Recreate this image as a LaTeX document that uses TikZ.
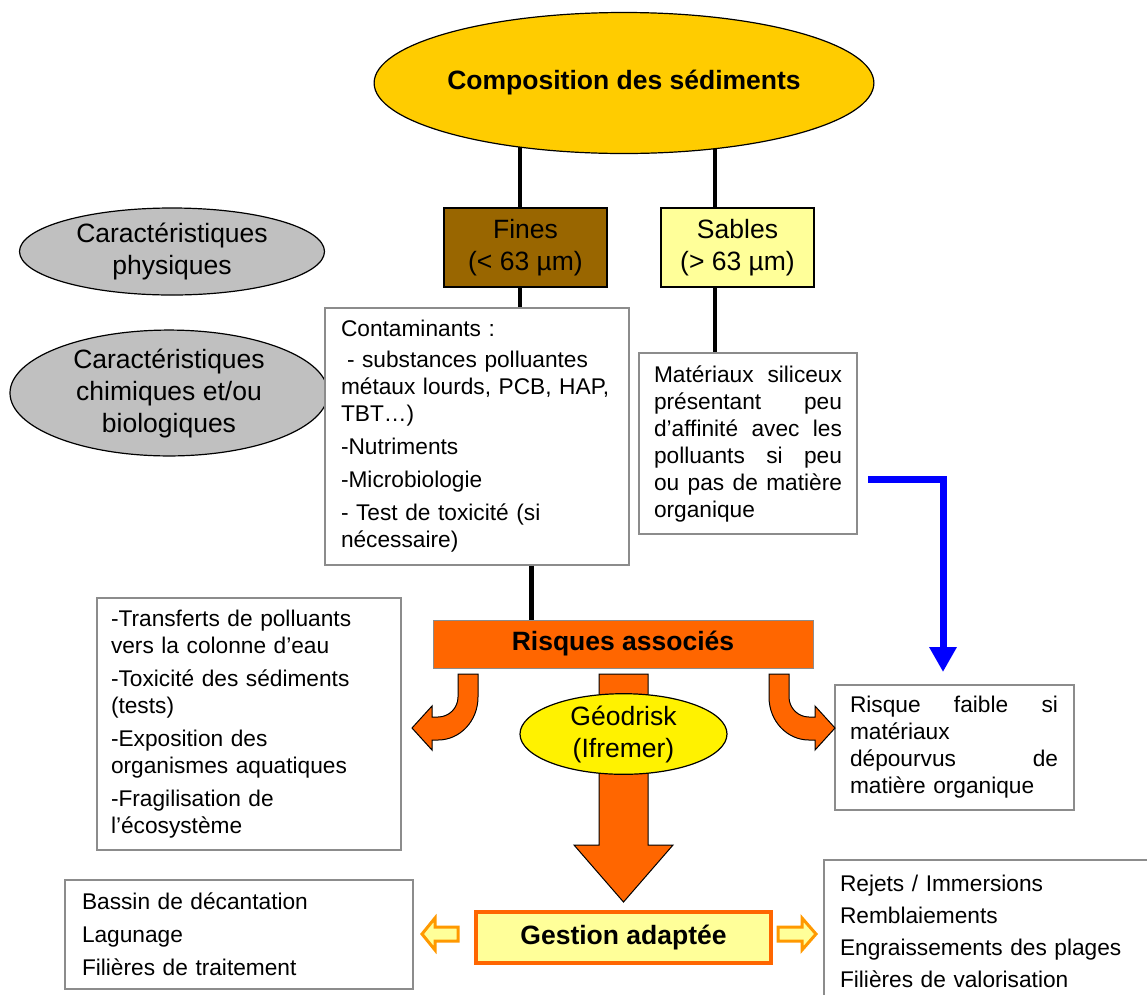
\documentclass[tikz,border=0pt]{standalone}
\usepackage{fontspec}
\setmainfont{Liberation Sans}
\usepackage{tikz}
\usetikzlibrary{positioning}
\usetikzlibrary{shapes.geometric}
\usetikzlibrary{arrows.meta}
\usetikzlibrary{backgrounds}
\definecolor{or}{HTML}{FFCC00}
\definecolor{brun}{HTML}{996600}
\definecolor{paille}{HTML}{FFFF99}
\definecolor{grisclair}{HTML}{C0C0C0}
\definecolor{orangevif}{HTML}{FF6600}
\definecolor{orangeclair}{HTML}{FF9900}
\definecolor{bleu}{HTML}{0000FF}
\definecolor{cadre}{HTML}{8C8C8C}
\newcommand{\justline}[2]{\makebox[#1][s]{\spaceskip=0pt\relax\xspaceskip=0pt\relax #2}}
\tikzset{
    grand/.style={font=\fontsize{26.5}{32}\selectfont},
    grandgras/.style={font=\fontsize{26.5}{32}\selectfont\bfseries},
    texte/.style={font=\fontsize{22.7}{27}\selectfont},
    bulle/.style={ellipse, draw=black, line width=1.2pt, inner sep=0pt, align=center},
    classe/.style={draw=black, line width=1.5pt, inner sep=0pt, align=center, grand},
    boite/.style={draw=cadre, line width=2pt, fill=white, inner sep=0pt, align=left, texte},
    lien/.style={line width=4.7pt},
    fleche/.style={draw=black, line width=1pt, fill=orangevif},
    creuse/.style={draw=orangeclair, line width=3pt, fill=paille}
}

\begin{document}
\begin{tikzpicture}[x=1pt, y=-1pt]
    \useasboundingbox (0,0) rectangle (1147,994);
    \node[bulle, fill=or, minimum width=392pt, minimum height=141pt, grandgras] (compo) at (624,83) {Composition des sédiments};
    \node[classe, fill=brun, minimum width=163pt, minimum height=79pt] (fines) at (525.5,247.5) {Fines\\(< 63 µm)};
    \node[classe, fill=paille, minimum width=153pt, minimum height=79pt] (sables) at (737.5,247.5) {Sables\\(> 63 µm)};
    \node[bulle, fill=grisclair, minimum width=305pt, minimum height=87pt, grand] (physique) at (172,251.5) {Caractéristiques\\physiques};
    \node[bulle, fill=grisclair, minimum width=318pt, minimum height=110pt, grand] (chimique) at (169,393) {Caractéristiques\\chimiques et/ou\\biologiques};
    \node[boite, minimum width=304pt, minimum height=257pt, text width=272pt] (contam) at (477,436) {Contaminants :\\[4pt]
        \hspace*{6pt}- substances polluantes\\
        métaux lourds, PCB, HAP,\\
        TBT…)\\[6pt]
        -Nutriments\\[6pt]
        -Microbiologie\\[6pt]
        - Test de toxicité (si\\
        nécessaire)};
    \node[boite, minimum width=218pt, minimum height=181pt, text width=188pt] (silice) at (748,443.5) {\justline{188pt}{Matériaux siliceux}\\
        \justline{188pt}{présentant peu}\\
        \justline{188pt}{d’affinité avec les}\\
        \justline{188pt}{polluants si peu}\\
        \justline{188pt}{ou pas de matière}\\
        organique};
    \node[draw=cadre, line width=1pt, fill=orangevif, minimum width=380pt, minimum height=48pt, grandgras] (risques) at (623,644) {Risques associés};
    \node[boite, minimum width=304pt, minimum height=252pt, text width=276pt] (transferts) at (249,724) {-Transferts de polluants\\
        vers la colonne d’eau\\[6pt]
        -Toxicité des sédiments\\
        (tests)\\[6pt]
        -Exposition des\\
        organismes aquatiques\\[6pt]
        -Fragilisation de\\
        l’écosystème};
    \node[boite, minimum width=239pt, minimum height=125pt, text width=208pt] (faible) at (954,747.5) {\justline{208pt}{Risque faible si}\\
        matériaux\\
        \justline{208pt}{dépourvus de}\\
        matière organique};
    \node[draw=orangevif, line width=4pt, fill=paille, minimum width=295pt, minimum height=51pt, grandgras] (gestion) at (623.5,937.5) {Gestion adaptée};
    \node[boite, minimum width=348pt, minimum height=109pt, text width=314pt] (bassin) at (239,934.5) {Bassin de décantation\\[6pt]
        Lagunage\\[6pt]
        Filières de traitement};
    \node[boite, anchor=north west, minimum width=360pt, minimum height=142pt, text width=328pt] (rejets) at (823,859) {Rejets / Immersions\\[5pt]
        Remblaiements\\[5pt]
        Engraissements des plages\\[5pt]
        Filières de valorisation};

    \begin{scope}[on background layer]
        \fill[white] (0,0) rectangle (1147,994);
        \draw[lien] ([xshift=-5.5pt]fines.north) -- ([xshift=-5.5pt]fines.north |- compo.center);
        \draw[lien] ([xshift=-22.5pt]sables.north) -- ([xshift=-22.5pt]sables.north |- compo.center);
    \end{scope}
    \draw[lien] ([xshift=-5.5pt]fines.south) -- ([xshift=-5.5pt]fines.south |- contam.north);
    \draw[lien] ([xshift=-22.5pt]sables.south) -- ([xshift=-22.5pt]sables.south |- silice.north);
    \draw[lien] ([xshift=54.5pt]contam.south) -- ([xshift=54.5pt]contam.south |- risques.north);
    \draw[line width=7pt, bleu, -{Triangle[width=26pt,length=25pt]}] ([xshift=10pt,yshift=-35.5pt]silice.east) -| ([xshift=-11pt,yshift=12pt]faible.north);

    \draw[fleche] (458,674) -- (478,674) -- (478,697) .. controls (478,721) and (460,740) .. (438,740) -- (432,740) -- (432,750) -- (412,728) -- (432,706) -- (432,717) -- (438,717) .. controls (449,717) and (458,708) .. (458,697) -- cycle;
    \draw[fleche] (789,674) -- (769,674) -- (769,697) .. controls (769,721) and (787,740) .. (809,740) -- (815,740) -- (815,750) -- (835,728) -- (815,706) -- (815,717) -- (809,717) .. controls (798,717) and (789,708) .. (789,697) -- cycle;
    \draw[fleche] (599,674) -- (648,674) -- (648,845) -- (673,845) -- (623.5,902) -- (574,845) -- (599,845) -- cycle;
    \node[bulle, fill=yellow, minimum width=207pt, minimum height=76pt, grand] (geodrisk) at (623.5,734) {Géodrisk\\(Ifremer)};

    \draw[creuse] (458,927) -- (435,927) -- (435,918) -- (422,934) -- (435,950) -- (435,941) -- (458,941) -- cycle;
    \draw[creuse] (778,927) -- (802,927) -- (802,918) -- (816,934) -- (802,950) -- (802,941) -- (778,941) -- cycle;
\end{tikzpicture}
\end{document}
